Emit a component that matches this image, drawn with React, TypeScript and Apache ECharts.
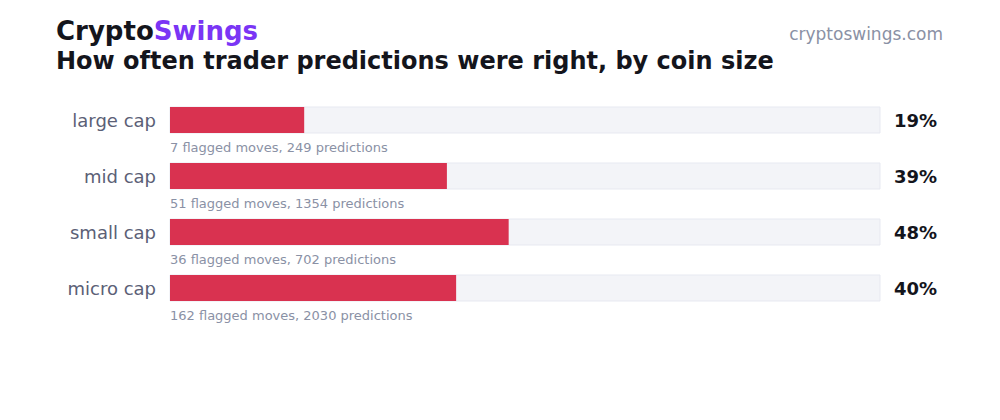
import { useEffect, useRef } from 'react';
import * as echarts from 'echarts';

const categories = ['large cap', 'mid cap', 'small cap', 'micro cap'];
const hitRates = [18.9, 39.0, 47.7, 40.3];
const flaggedMoves = [7, 51, 36, 162];
const predictions = [249, 1354, 702, 2030];

const FONT = '"DejaVu Sans", sans-serif';

export default function App() {
  const chartRef = useRef<HTMLDivElement>(null);

  useEffect(() => {
    if (!chartRef.current) return;
    const chart = echarts.init(chartRef.current, undefined, { renderer: 'svg' });

    const option: echarts.EChartsOption = {
      animation: false,
      backgroundColor: '#ffffff',
      textStyle: { fontFamily: FONT },
      title: [
        {
          text: '{a|Crypto}{b|Swings}',
          left: 56,
          top: 18,
          padding: 0,
          textStyle: {
            rich: {
              a: { fontFamily: FONT, fontSize: 26, fontWeight: 'bold', color: '#14151c' },
              b: { fontFamily: FONT, fontSize: 26, fontWeight: 'bold', color: '#7a35f5' },
            },
          },
        },
        {
          text: 'How often trader predictions were right, by coin size',
          left: 56,
          top: 49,
          padding: 0,
          textStyle: { fontFamily: FONT, fontSize: 24, fontWeight: 'bold', color: '#14151c' },
        },
        {
          text: 'cryptoswings.com',
          right: 57,
          top: 25,
          padding: 0,
          textStyle: { fontFamily: FONT, fontSize: 17, fontWeight: 'normal', color: '#8a91a5' },
        },
      ],
      grid: { left: 170, right: 120, top: 92, bottom: 104 },
      xAxis: {
        type: 'value',
        min: 0,
        max: 100,
        show: false,
      },
      yAxis: [
        {
          type: 'category',
          data: categories,
          inverse: true,
          axisLine: { show: false },
          axisTick: { show: false },
          axisLabel: { fontSize: 18, color: '#5b6076', margin: 14, fontFamily: FONT },
        },
        {
          type: 'category',
          data: hitRates.map((v) => `${Math.round(v)}%`),
          inverse: true,
          position: 'right',
          axisLine: { show: false },
          axisTick: { show: false },
          axisLabel: {
            fontSize: 18,
            fontWeight: 'bold',
            color: '#14151c',
            margin: 14,
            align: 'left',
            fontFamily: FONT,
          },
        },
      ],
      series: [
        {
          type: 'bar',
          data: hitRates,
          barWidth: 26,
          itemStyle: { color: '#d93250' },
          showBackground: true,
          backgroundStyle: { color: '#f3f4f8', borderColor: '#e7e9f1', borderWidth: 1 },
          label: {
            show: true,
            position: [0, 34],
            align: 'left',
            verticalAlign: 'top',
            fontSize: 13,
            color: '#8a91a5',
            fontFamily: FONT,
            formatter: (p: any) =>
              `${flaggedMoves[p.dataIndex]} flagged moves, ${predictions[p.dataIndex]} predictions`,
          },
        },
      ],
    };

    chart.setOption(option);
    return () => chart.dispose();
  }, []);

  return <div ref={chartRef} style={{ width: 1000, height: 420, margin: -8 }} />;
}
